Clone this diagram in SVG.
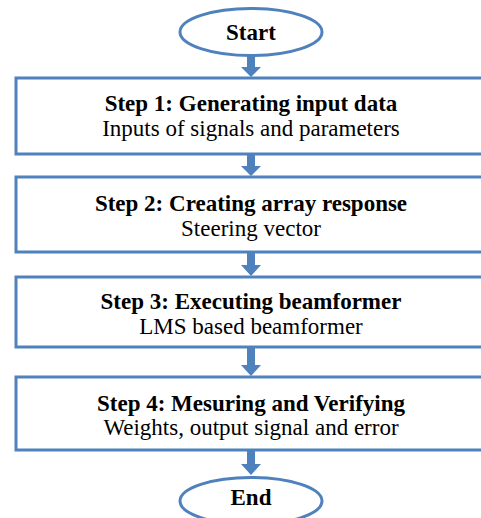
<svg xmlns="http://www.w3.org/2000/svg" width="481" height="518" viewBox="0 0 481 518">
<style>
.shape{fill:#ffffff;stroke:#4F81BD;stroke-width:3}
.arrow{fill:#4F81BD;stroke:none}
text{font-family:"Liberation Serif","Times New Roman",serif;font-size:23px;fill:#000;text-anchor:middle}
.b{font-weight:bold}
</style>
<rect width="481" height="518" fill="#ffffff"/>
<g id="connectors">
<polygon class="arrow" points="247,56 255,56 255,67 261,67 251,77 241,67 247,67"/>
<polygon class="arrow" points="247,155 255,155 255,166 261,166 251,176 241,166 247,166"/>
<polygon class="arrow" points="247,253 255,253 255,265 261,265 251,276 241,265 247,265"/>
<polygon class="arrow" points="247,348 255,348 255,365 261,365 251,376 241,365 247,365"/>
<polygon class="arrow" points="247,451 255,451 255,464 261,464 251,475 241,464 247,464"/>
</g>
<g id="start">
<ellipse class="shape" cx="251" cy="32" rx="71" ry="23.5"/>
<text class="b" x="251" y="40">Start</text>
</g>
<g id="step1">
<rect class="shape" x="16" y="78" width="470" height="76"/>
<text class="b" x="251" y="111">Step 1: Generating input data</text>
<text x="251" y="136">Inputs of signals and parameters</text>
</g>
<g id="step2">
<rect class="shape" x="16" y="177" width="470" height="75"/>
<text class="b" x="251" y="211">Step 2: Creating array response</text>
<text x="251" y="236">Steering vector</text>
</g>
<g id="step3">
<rect class="shape" x="16" y="277" width="470" height="70"/>
<text class="b" x="251" y="309">Step 3: Executing beamformer</text>
<text x="251" y="334">LMS based beamformer</text>
</g>
<g id="step4">
<rect class="shape" x="16" y="377" width="470" height="73"/>
<text class="b" x="251" y="411">Step 4: Mesuring and Verifying</text>
<text x="251" y="435">Weights, output signal and error</text>
</g>
<g id="end">
<ellipse class="shape" cx="251" cy="501" rx="71" ry="23.5"/>
<text class="b" x="251" y="505">End</text>
</g>
</svg>
